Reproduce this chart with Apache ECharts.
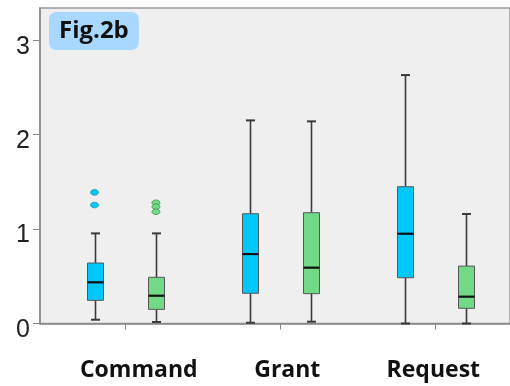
<!DOCTYPE html>
<html><head><meta charset="utf-8">
<script src="https://cdn.jsdelivr.net/npm/echarts@6/dist/echarts.min.js"></script>
<style>html,body{margin:0;padding:0;background:#fff}#c{width:510px;height:386px}</style>
</head><body><div id="c"></div>
<script>
const categories = ['Command', 'Grant', 'Request'];
const catPositions = [1, 2, 3];
// [min, Q1, median, Q3, max]
const blueStats = [
  [0.04, 0.245, 0.436, 0.64, 0.954],
  [0.008, 0.32, 0.735, 1.162, 2.15],
  [0.0, 0.485, 0.95, 1.448, 2.63]
];
const greenStats = [
  [0.016, 0.15, 0.294, 0.489, 0.954],
  [0.019, 0.316, 0.591, 1.173, 2.14],
  [0.0, 0.161, 0.284, 0.608, 1.159]
];
const blueOutliers = [[1.388, 1.254], [], []];
const greenOutliers = [[1.278, 1.236, 1.183], [], []];
const yTicks = [0, 1, 2, 3];

const BLUE = '#00c8fb', GREEN = '#72d987';
const HALF_PAIR = 0.198, BOX_W = 16, CAP_W = 9;

function boxData(stats) { return stats.map((s, i) => [catPositions[i]].concat(s)); }
function outlierData(outs) {
  const r = [];
  outs.forEach((arr, i) => arr.forEach(v => r.push([catPositions[i], v])));
  return r;
}
function boxRenderer(fill, side) {
  return function (params, api) {
    const x = api.value(0) + side * HALF_PAIR;
    const p = [1, 2, 3, 4, 5].map(i => api.coord([x, api.value(i)]));
    const cx = Math.round(p[0][0]) + 0.5;
    const ls = { stroke: '#3a3a3a', lineWidth: 1.6 };
    return { type: 'group', children: [
      { type: 'line', shape: { x1: cx, y1: p[4][1], x2: cx, y2: p[3][1] }, style: ls },
      { type: 'line', shape: { x1: cx, y1: p[1][1], x2: cx, y2: p[0][1] }, style: ls },
      { type: 'line', shape: { x1: cx - CAP_W / 2, y1: p[4][1], x2: cx + CAP_W / 2, y2: p[4][1] }, style: { stroke: '#3a3a3a', lineWidth: 2 } },
      { type: 'line', shape: { x1: cx - CAP_W / 2, y1: p[0][1], x2: cx + CAP_W / 2, y2: p[0][1] }, style: { stroke: '#3a3a3a', lineWidth: 2 } },
      { type: 'rect', shape: { x: cx - BOX_W / 2, y: p[3][1], width: BOX_W, height: p[1][1] - p[3][1] }, style: { fill: fill, stroke: '#555', lineWidth: 1 } },
      { type: 'line', shape: { x1: cx - BOX_W / 2, y1: p[2][1], x2: cx + BOX_W / 2, y2: p[2][1] }, style: { stroke: '#111', lineWidth: 2.2 } }
    ]};
  };
}
function outlierRenderer(fill, stroke, side) {
  return function (params, api) {
    const p = api.coord([api.value(0) + side * HALF_PAIR, api.value(1)]);
    return { type: 'ellipse', shape: { cx: p[0], cy: p[1], rx: 4, ry: 2.8 }, style: { fill: fill, stroke: stroke, lineWidth: 0.8 } };
  };
}

const labelPad = { Command: [0, 0, 0, 27], Grant: [0, 0, 0, 14], Request: [0, 4, 0, 0] };
const rich = {};
categories.forEach((c, i) => {
  rich['c' + i] = { fontSize: 23, fontWeight: 'bold', fontFamily: 'Open Sans', color: '#111', padding: labelPad[c] };
});

const chart = echarts.init(document.getElementById('c'), null, { renderer: 'canvas' });
chart.setOption({
  animation: false,
  backgroundColor: '#fff',
  title: {
    text: 'Fig.2b', left: 49, top: 12,
    backgroundColor: '#a8d8ff', borderRadius: 7, padding: [7, 10],
    textStyle: { fontSize: 24, lineHeight: 24, fontWeight: 'bold', fontFamily: 'Open Sans', color: '#111' }
  },
  grid: { left: 40, right: -2, top: 8, bottom: 62.5, show: true, backgroundColor: '#efefef', borderColor: '#999', borderWidth: 1.5 },
  xAxis: {
    type: 'value', min: 0.4502, max: 3.4817,
    splitLine: { show: false },
    axisLine: { show: true, lineStyle: { color: '#888', width: 1.5 } },
    axisTick: { show: true, customValues: catPositions, length: 6, lineStyle: { color: '#888' } },
    axisLabel: {
      customValues: catPositions, margin: 35,
      formatter: v => '{c' + (v - 1) + '|' + categories[v - 1] + '}',
      rich: rich
    }
  },
  yAxis: {
    type: 'value', min: 0, max: 3.34,
    splitLine: { show: false },
    axisLine: { show: true, lineStyle: { color: '#888', width: 1.5 } },
    axisTick: { show: true, customValues: yTicks, length: 7, lineStyle: { color: '#888' } },
    axisLabel: {
      customValues: yTicks, margin: 10,
      formatter: v => '{n|' + v + '}',
      rich: { n: { fontSize: 25, fontFamily: 'Liberation Sans', color: '#222', padding: [13, 0, 0, 0] } }
    }
  },
  series: [
    { type: 'custom', renderItem: boxRenderer(BLUE, -1), data: boxData(blueStats), encode: { x: 0, y: [1, 2, 3, 4, 5] }, clip: false, z: 3 },
    { type: 'custom', renderItem: boxRenderer(GREEN, 1), data: boxData(greenStats), encode: { x: 0, y: [1, 2, 3, 4, 5] }, clip: false, z: 3 },
    { type: 'custom', renderItem: outlierRenderer(BLUE, '#1a8fb8', -1), data: outlierData(blueOutliers), encode: { x: 0, y: 1 }, z: 4 },
    { type: 'custom', renderItem: outlierRenderer(GREEN, '#3d8f4f', 1), data: outlierData(greenOutliers), encode: { x: 0, y: 1 }, z: 4 }
  ]
});
</script></body></html>
